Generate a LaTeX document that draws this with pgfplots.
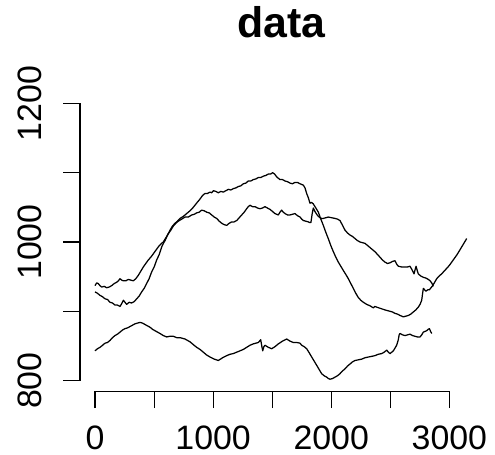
\documentclass[border=0pt]{standalone}
\usepackage{fontspec}
\setmainfont{Liberation Sans}
\usepackage{pgfplots}
\pgfplotsset{compat=1.18}

% three series, one table each
\pgfplotstableread{
x y
0 928
21 926
42 923
64 921
85 918
106 917
127 913
148 912
169 909
190 909
212 907
226 911
240 916
254 913
268 910
289 913
310 912
332 914
353 918
374 922
395 928
416 933
437 940
458 947
480 957
501 964
522 974
544 982
565 993
579 998
593 1002
614 1010
635 1017
656 1023
677 1027
698 1030
720 1034
748 1037
776 1041
804 1045
832 1050
860 1056
889 1062
910 1067
931 1070
952 1070
974 1072
988 1071
1002 1074
1023 1073
1044 1071
1065 1073
1086 1072
1108 1074
1129 1076
1150 1075
1171 1077
1192 1078
1213 1080
1234 1081
1256 1084
1277 1085
1298 1088
1319 1088
1340 1090
1362 1091
1383 1093
1404 1093
1425 1095
1446 1096
1467 1098
1486 1098
1504 1100
1521 1098
1538 1094
1552 1092
1566 1090
1588 1090
1609 1088
1630 1087
1651 1085
1672 1084
1693 1086
1714 1086
1736 1084
1750 1083
1764 1082
1778 1078
1792 1070
1806 1064
1820 1056
1834 1057
1848 1055
1870 1049
1891 1043
1912 1033
1933 1024
1954 1014
1975 1005
1996 995
2018 986
2039 978
2060 971
2081 965
2102 959
2124 953
2145 947
2166 940
2187 933
2208 926
2229 920
2250 916
2272 913
2300 910
2328 908
2356 905
2370 907
2385 906
2420 904
2455 902
2476 901
2498 900
2519 899
2540 897
2561 896
2582 894
2597 893
2611 892
2632 893
2653 894
2674 896
2695 899
2716 902
2737 906
2752 910
2766 916
2773 925
2780 933
2791 931
2802 929
2817 931
2831 931
2845 934
2859 937
2876 942
2893 947
2914 951
2935 954
2956 958
2978 962
2999 966
3020 971
3041 976
3062 981
3084 987
3105 993
3126 999
3147 1005
}\seriesA

\pgfplotstableread{
x y
0 937
14 941
28 940
42 937
57 935
78 936
99 934
120 935
141 937
162 940
184 942
198 944
212 947
226 945
240 944
261 944
282 946
303 945
324 944
345 947
367 952
388 958
409 964
430 969
451 974
472 978
494 983
515 988
536 993
557 997
578 1000
600 1006
621 1012
642 1017
663 1023
684 1027
705 1030
734 1033
762 1036
790 1036
819 1039
840 1040
861 1042
882 1043
903 1046
925 1045
946 1043
967 1042
988 1039
1009 1036
1030 1034
1052 1030
1073 1027
1094 1025
1115 1024
1136 1027
1157 1029
1178 1029
1200 1031
1221 1035
1242 1039
1263 1043
1284 1048
1298 1051
1312 1053
1334 1051
1355 1051
1376 1049
1397 1048
1418 1049
1439 1051
1460 1049
1482 1047
1503 1044
1524 1041
1538 1040
1552 1039
1566 1043
1580 1046
1594 1043
1609 1041
1630 1039
1651 1039
1672 1040
1693 1041
1714 1038
1736 1036
1750 1033
1764 1031
1785 1030
1806 1029
1817 1028
1828 1028
1838 1040
1848 1049
1862 1044
1877 1040
1891 1037
1905 1035
1919 1034
1933 1034
1954 1035
1975 1036
2004 1035
2032 1034
2053 1033
2074 1031
2096 1024
2117 1017
2138 1013
2159 1010
2180 1008
2201 1005
2222 1002
2244 1000
2265 999
2286 998
2307 995
2328 992
2349 989
2370 986
2392 982
2413 978
2434 974
2455 971
2476 969
2498 970
2519 972
2540 973
2554 968
2568 965
2596 964
2625 964
2646 964
2667 965
2684 960
2701 954
2710 960
2718 965
2728 959
2737 954
2758 951
2780 949
2801 948
2822 946
2837 944
2851 941
2864 936
}\seriesB

\pgfplotstableread{
x y
0 843
21 846
42 848
64 851
85 854
106 855
127 858
148 862
169 865
190 867
212 870
233 873
254 875
275 876
296 878
318 880
339 882
360 883
381 884
402 883
423 881
444 879
466 877
487 874
508 872
529 870
550 868
578 865
607 863
635 864
663 864
691 862
720 862
762 860
804 856
832 852
861 848
889 845
917 841
945 837
974 834
1009 831
1044 829
1080 833
1115 836
1143 838
1171 839
1199 841
1228 843
1256 845
1284 848
1312 851
1340 853
1362 854
1383 855
1393 857
1403 859
1412 850
1420 843
1430 849
1439 851
1468 848
1496 846
1524 849
1552 853
1588 857
1623 860
1651 857
1679 855
1708 855
1736 854
1750 851
1771 849
1792 846
1814 840
1835 834
1856 828
1877 822
1898 816
1919 810
1940 807
1962 805
1976 803
1990 802
2011 803
2032 805
2053 807
2074 810
2096 814
2117 817
2138 821
2159 824
2180 827
2201 829
2230 830
2258 831
2286 833
2314 834
2342 835
2370 836
2398 838
2427 839
2448 841
2470 844
2484 841
2498 839
2512 841
2526 843
2540 847
2554 851
2568 859
2575 866
2582 868
2604 866
2625 865
2646 866
2667 867
2688 865
2709 864
2730 863
2752 863
2766 866
2780 870
2794 871
2808 872
2820 874
2831 875
2841 871
2851 868
}\seriesC

\begin{document}
\begin{tikzpicture}[x=1bp,y=1bp]
\useasboundingbox (0,0) rectangle (495,455);
\begin{axis}[
  at={(80bp,63.3bp)}, anchor=south west,
  scale only axis, width=405bp, height=299.4bp,
  xmin=-127, xmax=3302, ymin=784, ymax=1216,
  axis x line*=bottom, axis y line*=left,
  axis line style={draw=none},
  xtick={0,500,...,3000}, xticklabels={0,,1000,,2000,,3000},
  ytick={800,900,...,1200}, yticklabels={800,,1000,,1200},
  tick align=outside, major tick length=16.5bp,
  tick style={black, line width=1.1bp},
  /pgf/number format/assume math mode=true,
  ticklabel style={font=\fontsize{34}{34}\selectfont, inner sep=0pt},
  xticklabel style={anchor=base},
  xticklabel shift=41.5bp,
  yticklabel style={rotate=90, anchor=base},
  yticklabel shift=22bp,
  clip=false,
]
\draw[line width=1.1bp, line cap=rect] (axis cs:0,784) -- (axis cs:3000,784);
\draw[line width=1.1bp, line cap=rect] (axis cs:-127,800) -- (axis cs:-127,1200);
\addplot[black, line width=1.25bp, line join=round] table {\seriesA};
\addplot[black, line width=1.25bp, line join=round] table {\seriesB};
\addplot[black, line width=1.25bp, line join=round] table {\seriesC};
\end{axis}
\node[font=\bfseries\fontsize{43}{43}\selectfont, anchor=base] at (281.4,417.3) {data};
\end{tikzpicture}
\end{document}
